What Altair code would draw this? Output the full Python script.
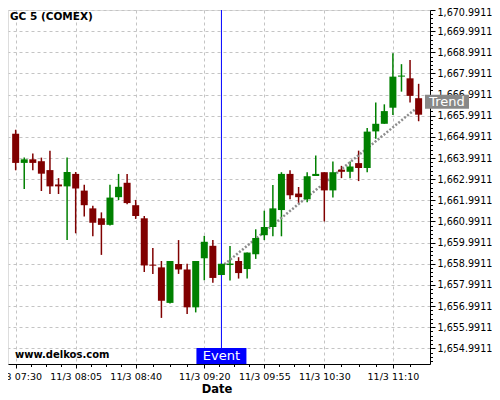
import altair as alt
import pandas as pd

# ---------------- data ----------------
opens = [1665.14, 1663.76, 1663.93, 1663.84, 1663.42, 1662.74, 1662.65, 1663.24, 1662.45, 1661.61,
         1661.14, 1660.83, 1662.14, 1662.82, 1661.76, 1661.14, 1658.95, 1658.82, 1657.14, 1658.98,
         1658.72, 1656.93, 1659.25, 1659.84, 1658.46, 1658.93, 1659.12, 1658.74, 1659.44, 1660.34,
         1660.73, 1661.53, 1663.24, 1662.31, 1662.04, 1663.14, 1663.32, 1662.46, 1663.44, 1663.34,
         1663.75, 1663.52, 1665.25, 1665.61, 1666.37, 1667.84, 1667.76, 1666.82]
highs = [1665.33, 1664.01, 1664.20, 1664.01, 1664.34, 1663.04, 1664.01, 1663.33, 1662.73, 1661.73,
         1661.42, 1662.73, 1663.24, 1663.24, 1662.01, 1661.25, 1659.73, 1659.12, 1659.12, 1660.11,
         1658.99, 1659.12, 1660.31, 1660.11, 1659.00, 1659.83, 1659.30, 1659.52, 1660.62, 1661.50,
         1662.71, 1663.32, 1663.41, 1662.62, 1663.32, 1664.11, 1663.32, 1663.83, 1663.62, 1663.83,
         1664.34, 1665.41, 1666.62, 1666.53, 1668.94, 1668.43, 1668.63, 1667.50]
lows = [1663.41, 1662.53, 1663.41, 1662.43, 1662.29, 1662.29, 1660.11, 1660.43, 1661.22, 1660.29,
        1659.41, 1660.80, 1662.00, 1661.81, 1661.11, 1658.60, 1658.51, 1656.43, 1657.11, 1658.51,
        1656.62, 1656.69, 1658.21, 1658.09, 1658.45, 1658.20, 1658.29, 1658.29, 1659.22, 1660.11,
        1660.29, 1660.29, 1662.04, 1661.84, 1661.90, 1663.14, 1660.99, 1662.12, 1663.04, 1663.04,
        1662.90, 1663.32, 1664.90, 1665.61, 1666.03, 1667.13, 1666.62, 1665.73]
closes = [1663.76, 1663.93, 1663.76, 1663.25, 1662.65, 1662.65, 1663.33, 1662.55, 1661.76, 1660.93,
          1660.83, 1662.12, 1662.63, 1661.86, 1661.25, 1658.91, 1658.90, 1657.24, 1659.12, 1658.72,
          1656.93, 1659.12, 1660.03, 1658.32, 1658.99, 1659.00, 1658.55, 1659.52, 1660.21, 1660.73,
          1661.61, 1663.24, 1662.23, 1662.14, 1663.13, 1663.24, 1662.46, 1663.32, 1663.34, 1663.59,
          1663.52, 1665.24, 1665.61, 1666.21, 1667.84, 1667.89, 1666.93, 1666.04]
first_bar = "2011-11-03 07:30"
bar_minutes = 5

x_major_labels = ["07:30", "08:05", "08:40", "09:20", "09:55", "10:30", "11:10"]
y_major_ticks = [1654.9911, 1655.9911, 1656.9911, 1657.9911, 1658.9911, 1659.9911, 1660.9911,
                 1661.9911, 1662.9911, 1663.9911, 1664.9911, 1665.9911, 1666.9911, 1667.9911,
                 1668.9911, 1669.9911, 1670.9911]

event_time = ["2011-11-03 09:30"]
event_label = ["Event"]
trend_times = ["2011-11-03 09:30", "2011-11-03 11:25"]
trend_prices = [1658.85, 1666.43]
trend_label = ["Trend"]
trend_label_price = [1666.65]
chart_title = ["GC 5 (COMEX)"]
watermark = ["www.delkos.com"]
x_title = ["Date"]

x_start = pd.Timestamp("2011-11-03 07:28:27")
x_end = pd.Timestamp("2011-11-03 11:28:43")
y_min, y_max = 1654.25, 1670.9911

W, H = 422, 354

# ---------------- frames ----------------
times = pd.date_range(first_bar, periods=len(opens), freq=f"{bar_minutes}min")
df = pd.DataFrame({"t": times, "open": opens, "high": highs, "low": lows, "close": closes})
df["dir"] = ["up" if c >= o else "down" for o, c in zip(opens, closes)]

event_df = pd.DataFrame({"t": pd.to_datetime(event_time), "label": event_label})
trend_df = pd.DataFrame({"t": pd.to_datetime(trend_times), "price": trend_prices})
trend_lab_df = pd.DataFrame({"t": [x_end], "price": trend_label_price, "label": trend_label})


def dt(ts):
    return alt.DateTime(year=ts.year, month=ts.month, date=ts.day,
                        hours=ts.hour, minutes=ts.minute, seconds=ts.second)


majors = [pd.Timestamp("2011-11-03 " + s) for s in x_major_labels]
x_ticks = list(majors)
for a, b in zip(majors[:-1], majors[1:]):
    step = (b - a) / 4
    x_ticks += [a + step * k for k in (1, 2, 3)]
last_step = (majors[-1] - majors[-2]) / 4
x_ticks += [majors[-1] + last_step * k for k in (1, 2) if majors[-1] + last_step * k <= x_end]
x_ticks = sorted(x_ticks)
major_minutes = [ts.hour * 60 + ts.minute for ts in majors]
x_is_major = (f"indexof({major_minutes}, hours(datum.value)*60 + minutes(datum.value)) >= 0"
              " && seconds(datum.value) == 0")

y_ticks = sorted(set(round(v + 0.2 * k, 4) for v in y_major_ticks for k in range(-3, 5)
                     if y_min <= round(v + 0.2 * k, 4) <= y_max))
y_is_major = "abs((datum.value - 0.9911) - round(datum.value - 0.9911)) < 0.001"

FONT = "DejaVu Sans"

x_scale = alt.Scale(domain=[dt(x_start), dt(x_end)])
y_scale = alt.Scale(domain=[y_min, y_max], zero=False, nice=False)

x_axis = alt.Axis(
    values=[dt(t) for t in x_ticks], tickCount=1000, format="%-m/%-d %H:%M",
    labelExpr=f"({x_is_major}) ? datum.label : ''",
    tickSize={"condition": {"test": x_is_major, "value": 4}, "value": 2.5},
    grid=True, gridColor="#c4c4c4", gridDash=[3, 3],
    gridOpacity={"condition": {"test": x_is_major, "value": 1}, "value": 0},
    domainColor="black", tickColor="black", labelColor="black",
    labelFont=FONT, labelFontSize=9.5, labelPadding=3, labelFlush=False, labelOverlap=False,
    title=None,
)
y_axis = alt.Axis(
    orient="right", values=y_ticks, tickCount=1000, format=",.4f",
    labelExpr=f"({y_is_major}) ? datum.label : ''",
    tickSize={"condition": {"test": y_is_major, "value": 5}, "value": 2.5},
    labelOffset={"condition": {"test": "datum.value > 1670.9", "value": 2.5}, "value": 0},
    grid=True, gridColor="#c4c4c4", gridDash=[3, 3],
    gridOpacity={"condition": {"test": y_is_major, "value": 1}, "value": 0},
    domainColor="black", tickColor="black", labelColor="black",
    labelFont=FONT, labelFontSize=9.6, labelPadding=2, labelOverlap=False, title=None,
)

color = alt.Color("dir:N", scale=alt.Scale(domain=["up", "down"], range=["#008000", "#800000"]),
                  legend=None)

base = alt.Chart(df)

wicks = base.mark_rule(strokeWidth=1.5).encode(
    x=alt.X("t:T", scale=x_scale, axis=x_axis),
    y=alt.Y("low:Q", scale=y_scale, axis=y_axis),
    y2="high:Q",
    color=color,
)
bodies = base.mark_bar(width=7).encode(
    x="t:T", y="open:Q", y2="close:Q", color=color,
)

trend = alt.Chart(trend_df).mark_line(color="#8e8e8e", strokeWidth=2.5, strokeDash=[2, 1.8]).encode(
    x="t:T", y="price:Q"
)

event_rule = alt.Chart(event_df).mark_rule(color="#0000ff", strokeWidth=1).encode(x="t:T")
event_box = alt.Chart(event_df).mark_rect(color="#0000ff", xOffset=-25, x2Offset=25, yOffset=-16).encode(
    x="t:T", x2="t:T", y=alt.datum(y_min), y2=alt.datum(y_min)
)
event_text = alt.Chart(event_df).mark_text(color="white", font=FONT, fontSize=13, baseline="middle",
                                           dy=-8).encode(
    x="t:T", y=alt.datum(y_min), text="label:N"
)

trend_box = alt.Chart(trend_lab_df).mark_rect(color="#888888", x2Offset=44, yOffset=-7, y2Offset=7).encode(
    x="t:T", x2="t:T", y="price:Q", y2="price:Q"
)
trend_text = alt.Chart(trend_lab_df).mark_text(color="white", font=FONT, fontSize=13, baseline="middle",
                                               dx=22).encode(
    x="t:T", y="price:Q", text="label:N"
)

title_text = alt.Chart(pd.DataFrame({"label": chart_title})).mark_text(
    align="left", baseline="alphabetic", font=FONT, fontWeight="bold", fontSize=10.5, color="black"
).encode(x=alt.value(2), y=alt.value(9.5), text="label:N")

wm_text = alt.Chart(pd.DataFrame({"label": watermark})).mark_text(
    align="left", baseline="alphabetic", font=FONT, fontWeight="bold", fontSize=10, color="black"
).encode(x=alt.value(7), y=alt.value(348), text="label:N")

xtitle_text = alt.Chart(pd.DataFrame({"label": x_title})).mark_text(
    align="center", baseline="alphabetic", font=FONT, fontWeight="bold", fontSize=11.5, color="black"
).encode(x=alt.value(W / 2 - 2), y=alt.value(H + 28.5), text="label:N")

chart = alt.layer(
    wicks, trend, event_rule, bodies, event_box, event_text, trend_box, trend_text,
    title_text, wm_text, xtitle_text
).properties(
    width=W, height=H,
    autosize=alt.AutoSizeParams(type="none"),
    padding={"left": 0, "top": 2, "right": 62, "bottom": 31},
).configure_view(stroke=None).configure(background="white")

chart.save("out.html", embed_options={"renderer": "svg", "actions": False})
